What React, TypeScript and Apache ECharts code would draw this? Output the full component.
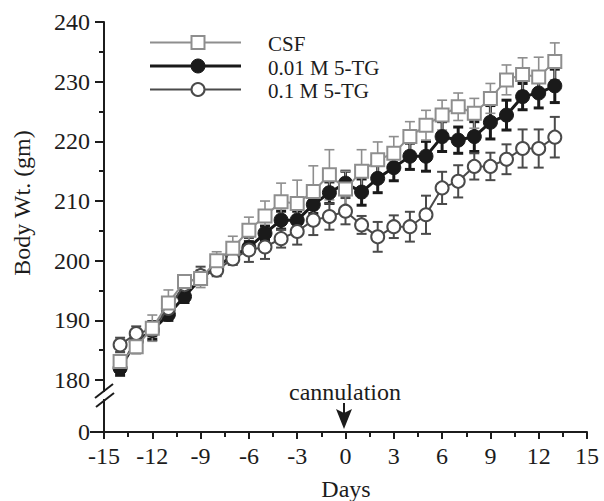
import React, { useEffect, useRef } from "react";
import * as echarts from "echarts";

// ---- data ----
const days = [-14, -13, -12, -11, -10, -9, -8, -7, -6, -5, -4, -3, -2, -1, 0, 1, 2, 3, 4, 5, 6, 7, 8, 9, 10, 11, 12, 13];

const csfMean = [183.1, 185.6, 188.7, 192.9, 196.5, 197.0, 200.0, 202.1, 205.1, 207.5, 209.9, 209.6, 211.6, 214.4, 212.0, 215.0, 216.9, 218.0, 220.8, 222.7, 224.4, 225.8, 224.7, 227.2, 230.3, 231.2, 230.8, 233.4];
const csfErr = [1.2, 1.2, 2.2, 2.2, 1.0, 1.5, 1.5, 2.0, 2.2, 2.5, 3.1, 3.9, 4.3, 4.2, 3.0, 3.6, 3.0, 2.8, 2.5, 2.5, 2.5, 2.3, 2.5, 2.5, 2.5, 2.8, 3.3, 3.1];

const lowMean = [182.0, 186.5, 188.3, 191.0, 194.0, 197.0, 199.0, 200.8, 202.2, 204.6, 206.8, 206.8, 209.4, 211.4, 213.0, 211.5, 213.8, 215.6, 217.5, 217.5, 220.8, 220.2, 220.8, 223.2, 224.4, 227.5, 228.1, 229.3];
const lowErr = [1.2, 1.0, 1.5, 1.0, 1.0, 1.0, 1.0, 1.0, 1.0, 1.2, 1.5, 1.5, 1.5, 1.8, 2.0, 2.2, 2.4, 2.2, 2.2, 2.5, 2.5, 2.2, 2.5, 2.8, 2.5, 2.2, 2.5, 2.8];

const highMean = [185.9, 187.8, 188.5, 192.0, 196.0, 197.5, 198.4, 200.3, 201.8, 202.3, 203.7, 204.9, 206.8, 207.4, 208.3, 206.0, 204.0, 205.7, 205.7, 207.7, 212.2, 213.3, 215.8, 215.8, 217.0, 218.8, 218.8, 220.7];
const highErr = [1.2, 1.2, 1.2, 1.0, 1.0, 1.5, 1.0, 1.0, 2.0, 2.0, 1.5, 2.2, 2.5, 2.2, 2.2, 1.5, 2.5, 1.9, 2.5, 3.2, 2.7, 2.7, 2.2, 2.3, 2.5, 3.2, 3.2, 3.4];

const seriesNames = ["CSF", "0.01 M 5-TG", "0.1 M 5-TG"];

const yMajorTicks = [180, 190, 200, 210, 220, 230, 240];
const yMinorTicks = [185, 195, 205, 215, 225, 235];
const yBreakValue = 171.3; // axis bottom, labelled "0"
const yBreakLabel = "0";

const xMin = -15;
const xMax = 15;
const xLabelStep = 3;
const xTickStep = 1.5;

const FONT = "Liberation Serif";
const INK = "#1c1c1c";

const CSF_COLOR = "#8e8e8e";
const LOW_COLOR = "#1a1a1a";
const HIGH_COLOR = "#4a4a4a";

function errData(mean: number[], err: number[]) {
  return days.map((d, i) => [d, mean[i] - err[i], mean[i] + err[i]]);
}

function errSeries(mean: number[], err: number[], color: string, width: number, z: number) {
  return {
    type: "custom",
    xAxisIndex: 0,
    yAxisIndex: 0,
    z,
    silent: true,
    encode: { x: 0, y: [1, 2] },
    data: errData(mean, err),
    renderItem: (params: any, api: any) => {
      const x = api.value(0);
      const lo = api.coord([x, api.value(1)]);
      const hi = api.coord([x, api.value(2)]);
      const w = 5;
      const style = { stroke: color, lineWidth: width };
      return {
        type: "group",
        children: [
          { type: "line", shape: { x1: lo[0], y1: lo[1], x2: hi[0], y2: hi[1] }, style },
          { type: "line", shape: { x1: hi[0] - w, y1: hi[1], x2: hi[0] + w, y2: hi[1] }, style },
          { type: "line", shape: { x1: lo[0] - w, y1: lo[1], x2: lo[0] + w, y2: lo[1] }, style },
        ],
      };
    },
  };
}

export default function App() {
  const ref = useRef<HTMLDivElement>(null);

  useEffect(() => {
    if (!ref.current) return;
    const chart = echarts.init(ref.current, null, { renderer: "svg" });

    const textStyle = { fontFamily: FONT, fontSize: 24, color: INK };
    const font = `24px "${FONT}"`;
    const legendFont = `21px "${FONT}"`;

    const legendRows = [
      { y: 42.5, ty: 44 },
      { y: 66, ty: 67.5 },
      { y: 89.5, ty: 91 },
    ];
    const lx1 = 150, lx2 = 241, lmx = 198, ltx = 268;

    const graphic: any[] = [
      // legend CSF
      { type: "line", z: 100, shape: { x1: lx1, y1: legendRows[0].y, x2: lx2, y2: legendRows[0].y }, style: { stroke: CSF_COLOR, lineWidth: 2 } },
      { type: "rect", z: 101, shape: { x: lmx - 6.5, y: legendRows[0].y - 6.5, width: 13, height: 13 }, style: { fill: "#fff", stroke: CSF_COLOR, lineWidth: 2 } },
      { type: "text", z: 101, x: ltx, y: legendRows[0].ty, style: { text: seriesNames[0], font: legendFont, fill: INK, verticalAlign: "middle", align: "left" } },
      // legend 0.01
      { type: "line", z: 100, shape: { x1: lx1, y1: legendRows[1].y, x2: lx2, y2: legendRows[1].y }, style: { stroke: LOW_COLOR, lineWidth: 3 } },
      { type: "circle", z: 101, shape: { cx: lmx, cy: legendRows[1].y, r: 7 }, style: { fill: LOW_COLOR, stroke: LOW_COLOR, lineWidth: 1 } },
      { type: "text", z: 101, x: ltx, y: legendRows[1].ty, style: { text: seriesNames[1], font: legendFont, fill: INK, verticalAlign: "middle", align: "left" } },
      // legend 0.1
      { type: "line", z: 100, shape: { x1: lx1, y1: legendRows[2].y, x2: lx2, y2: legendRows[2].y }, style: { stroke: HIGH_COLOR, lineWidth: 2 } },
      { type: "circle", z: 101, shape: { cx: lmx, cy: legendRows[2].y, r: 6.5 }, style: { fill: "#fff", stroke: HIGH_COLOR, lineWidth: 2 } },
      { type: "text", z: 101, x: ltx, y: legendRows[2].ty, style: { text: seriesNames[2], font: legendFont, fill: INK, verticalAlign: "middle", align: "left" } },
      // axis break
      { type: "rect", z: 100, shape: { x: 100, y: 392, width: 8, height: 7 }, style: { fill: "#fff" } },
      { type: "line", z: 101, shape: { x1: 95, y1: 398, x2: 113, y2: 384 }, style: { stroke: INK, lineWidth: 2 } },
      { type: "line", z: 101, shape: { x1: 96, y1: 407, x2: 114, y2: 393 }, style: { stroke: INK, lineWidth: 2 } },
      // cannulation annotation
      { type: "text", z: 101, x: 345, y: 392, style: { text: "cannulation", font, fill: INK, verticalAlign: "middle", align: "center" } },
      { type: "line", z: 101, shape: { x1: 344, y1: 403, x2: 344, y2: 418 }, style: { stroke: INK, lineWidth: 2 } },
      { type: "polygon", z: 101, shape: { points: [[336, 409], [344, 413], [352, 409], [344, 429]] }, style: { fill: INK } },
      // axis titles
      { type: "text", z: 101, x: 22, y: 203, rotation: Math.PI / 2, style: { text: "Body Wt. (gm)", font, fill: INK, verticalAlign: "middle", align: "center" } },
      { type: "text", z: 101, x: 346, y: 489, style: { text: "Days", font, fill: INK, verticalAlign: "middle", align: "center" } },
    ];

    const axisLine = { show: true, onZero: false, lineStyle: { color: INK, width: 2 } };
    const hiddenLine = { show: false, onZero: false };

    const option: any = {
      animation: false,
      backgroundColor: "#fff",
      grid: { left: 104, right: 17, top: 22, bottom: 69, containLabel: false, outerBoundsMode: "none" },
      xAxis: [
        {
          type: "value",
          min: xMin,
          max: xMax,
          interval: xLabelStep,
          position: "bottom",
          axisLine,
          splitLine: { show: false },
          axisTick: { show: true, length: 7, lineStyle: { color: INK, width: 2 } },
          axisLabel: {
            ...textStyle,
            margin: 12,
            showMinLabel: true,
            showMaxLabel: true,
            formatter: (v: number) => String(v),
          },
        },
        {
          type: "value",
          min: xMin,
          max: xMax,
          interval: xTickStep,
          position: "bottom",
          offset: 0,
          axisLine: hiddenLine,
          splitLine: { show: false },
          axisTick: { show: true, length: 5, lineStyle: { color: INK, width: 2 } },
          axisLabel: { show: false },
        },
      ],
      yAxis: [
        {
          type: "value",
          min: yBreakValue,
          max: 240,
          position: "left",
          axisLine,
          splitLine: { show: false },
          axisTick: { show: true, length: 9, customValues: yMajorTicks, lineStyle: { color: INK, width: 2 } },
          axisLabel: {
            ...textStyle,
            margin: 14,
            customValues: [yBreakValue, ...yMajorTicks],
            formatter: (v: number) => (Math.abs(v - yBreakValue) < 0.01 ? yBreakLabel : String(v)),
          },
        },
        {
          type: "value",
          min: yBreakValue,
          max: 240,
          position: "left",
          offset: 0,
          axisLine: hiddenLine,
          splitLine: { show: false },
          axisTick: { show: true, length: 5, customValues: yMinorTicks, lineStyle: { color: INK, width: 2 } },
          axisLabel: { show: false },
        },
        {
          type: "value",
          min: yBreakValue,
          max: 240,
          position: "left",
          offset: 0,
          axisLine: hiddenLine,
          splitLine: { show: false },
          axisTick: { show: true, length: 14, customValues: [yBreakValue], lineStyle: { color: INK, width: 2 } },
          axisLabel: { show: false },
        },
      ],
      series: [
        errSeries(lowMean, lowErr, LOW_COLOR, 3, 1),
        errSeries(highMean, highErr, HIGH_COLOR, 2, 1),
        errSeries(csfMean, csfErr, CSF_COLOR, 1.6, 1),
        {
          name: seriesNames[1],
          type: "line",
          z: 3,
          data: days.map((d, i) => [d, lowMean[i]]),
          symbol: "circle",
          symbolSize: 14,
          lineStyle: { color: LOW_COLOR, width: 3 },
          itemStyle: { color: LOW_COLOR, borderColor: LOW_COLOR, borderWidth: 1 },
        },
        {
          name: seriesNames[2],
          type: "line",
          z: 4,
          data: days.map((d, i) => [d, highMean[i]]),
          symbol: "circle",
          symbolSize: 13,
          lineStyle: { color: HIGH_COLOR, width: 2 },
          itemStyle: { color: "#fff", borderColor: HIGH_COLOR, borderWidth: 2 },
        },
        {
          name: seriesNames[0],
          type: "line",
          z: 5,
          data: days.map((d, i) => [d, csfMean[i]]),
          symbol: "rect",
          symbolSize: 13,
          lineStyle: { color: CSF_COLOR, width: 2 },
          itemStyle: { color: "#fff", borderColor: CSF_COLOR, borderWidth: 2 },
        },
      ],
      graphic,
    };

    chart.setOption(option);
    return () => chart.dispose();
  }, []);

  return <div ref={ref} style={{ width: 604, height: 501, position: "absolute", left: 0, top: 0 }} />;
}
